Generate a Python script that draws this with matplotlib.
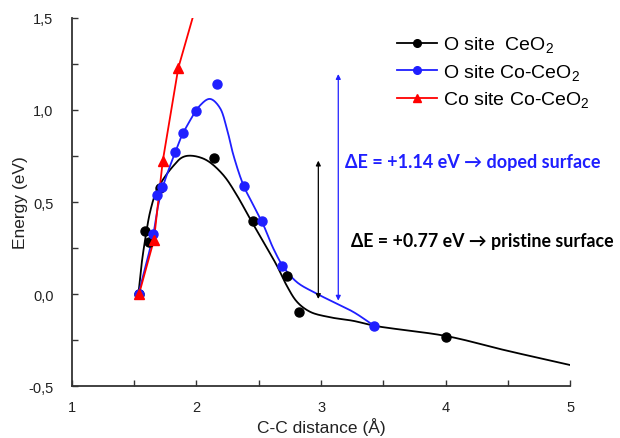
import numpy as np
import matplotlib
matplotlib.use("Agg")
import matplotlib.pyplot as plt
from matplotlib.lines import Line2D
from matplotlib.ticker import FuncFormatter, MultipleLocator

# ---- data ----
# O site CeO2 (black points)
o_ceo2_x = [1.54, 1.588, 1.622, 1.708, 2.141, 2.454, 2.727, 2.823, 4.002]
o_ceo2_y = [0.0, 0.343, 0.285, 0.577, 0.739, 0.397, 0.099, -0.097, -0.232]

# O site Co-CeO2 (blue points)
o_co_x = [1.54, 1.654, 1.682, 1.722, 1.828, 1.89, 1.997, 2.165, 2.382, 2.528, 2.689, 3.424]
o_co_y = [0.0, 0.327, 0.539, 0.584, 0.774, 0.875, 0.995, 1.141, 0.589, 0.399, 0.151, -0.173]

# Co site Co-CeO2 (red triangles) and the red line (runs on to the top edge)
co_co_x = [1.54, 1.66, 1.73, 1.855]
co_co_y = [0.0, 0.296, 0.721, 1.228]
red_line_x = [1.54, 1.66, 1.73, 1.855, 1.97]
red_line_y = [0.0, 0.296, 0.721, 1.228, 1.50]

# fitted curves (sampled along the drawn lines)
black_curve_x = [1.535, 1.56, 1.59, 1.63, 1.68, 1.75, 1.82, 1.88, 1.95, 2.08, 2.217, 2.324,
                 2.43, 2.538, 2.645, 2.725, 2.805, 2.91, 3.07, 3.26, 3.433, 4.01, 4.48, 5.0]
black_curve_y = [0.0, 0.16, 0.30, 0.45, 0.56, 0.64, 0.70, 0.74, 0.752, 0.728, 0.646, 0.538,
                 0.41, 0.283, 0.156, 0.046, -0.04, -0.095, -0.125, -0.145, -0.172, -0.228,
                 -0.305, -0.385]
blue_curve_x = [1.535, 1.60, 1.656, 1.69, 1.73, 1.78, 1.83, 1.87, 1.93, 2.03, 2.11, 2.19,
                2.244, 2.297, 2.377, 2.457, 2.538, 2.618, 2.698, 2.805, 2.938, 3.07, 3.26, 3.433]
blue_curve_y = [0.0, 0.17, 0.33, 0.47, 0.58, 0.68, 0.77, 0.84, 0.92, 1.025, 1.06, 1.01,
                0.90, 0.755, 0.592, 0.483, 0.375, 0.247, 0.148, 0.066, 0.012, -0.033, -0.097,
                -0.175]

# energy-difference arrows: (x, bottom, top)
arrow_black = (2.978, -0.026, 0.725)
arrow_blue = (3.138, -0.035, 1.195)

legend_labels = ["O site  CeO$_2$", "O site Co-CeO$_2$", "Co site Co-CeO$_2$"]
label_doped = "ΔE = +1.14 eV → doped surface"
label_pristine = "ΔE = +0.77 eV → pristine surface"

BLUE = "#1f1fff"


def smooth(xs, ys, n=16, alpha=0.5):
    # centripetal Catmull-Rom through the sampled curve points, only for drawing
    p = np.column_stack([xs, ys]).astype(float)
    p = np.vstack([2 * p[0] - p[1], p, 2 * p[-1] - p[-2]])
    out = []
    for i in range(1, len(p) - 2):
        P0, P1, P2, P3 = p[i - 1], p[i], p[i + 1], p[i + 2]
        t0 = 0.0
        t1 = t0 + np.linalg.norm(P1 - P0) ** alpha
        t2 = t1 + np.linalg.norm(P2 - P1) ** alpha
        t3 = t2 + np.linalg.norm(P3 - P2) ** alpha
        for t in np.linspace(t1, t2, n, endpoint=False):
            A1 = (t1 - t) / (t1 - t0) * P0 + (t - t0) / (t1 - t0) * P1
            A2 = (t2 - t) / (t2 - t1) * P1 + (t - t1) / (t2 - t1) * P2
            A3 = (t3 - t) / (t3 - t2) * P2 + (t - t2) / (t3 - t2) * P3
            B1 = (t2 - t) / (t2 - t0) * A1 + (t - t0) / (t2 - t0) * A2
            B2 = (t3 - t) / (t3 - t1) * A2 + (t - t1) / (t3 - t1) * A3
            out.append((t2 - t) / (t2 - t1) * B1 + (t - t1) / (t2 - t1) * B2)
    out.append(p[-2])
    out = np.array(out)
    return out[:, 0], out[:, 1]


plt.rcParams['font.family'] = ['Liberation Sans', 'DejaVu Sans']
plt.rcParams['mathtext.fontset'] = 'custom'
plt.rcParams['mathtext.rm'] = 'Liberation Sans'

fig = plt.figure(figsize=(6.2, 4.39), dpi=100)
ax = fig.add_axes([0.1156, 0.1178, 0.8045, 0.8392])

bx, by = smooth(black_curve_x, black_curve_y)
ax.plot(bx, by, color="black", lw=1.3, zorder=2)
ux, uy = smooth(blue_curve_x, blue_curve_y)
ax.plot(ux, uy, color=BLUE, lw=1.3, zorder=2)
ax.plot(red_line_x, red_line_y, color="red", lw=1.3, zorder=2)

ax.plot(o_ceo2_x, o_ceo2_y, "o", color="black", ms=6.5, zorder=3)
ax.plot(o_co_x, o_co_y, "o", color=BLUE, ms=6.5, zorder=3)
ax.plot(co_co_x, co_co_y, "^", color="red", ms=7.5, zorder=4)

for (x, y0, y1), c in [(arrow_black, "black"), (arrow_blue, BLUE)]:
    ax.annotate("", xy=(x, y1), xytext=(x, y0),
                arrowprops=dict(arrowstyle="<|-|>", color=c, lw=0.9,
                                mutation_scale=7, shrinkA=0, shrinkB=0))

ax.text(3.19, 0.718, label_doped, color=BLUE, fontsize=13, fontweight="bold",
        va="center", ha="left", family=['Lato', 'DejaVu Sans'])
ax.text(3.24, 0.289, label_pristine, color="black", fontsize=12.8, fontweight="bold",
        va="center", ha="left", family=['Lato', 'DejaVu Sans'])

handles = [
    Line2D([], [], color="black", marker="o", ms=5.5, lw=1.3),
    Line2D([], [], color=BLUE, marker="o", ms=5.5, lw=1.3),
    Line2D([], [], color="red", marker="^", ms=6, lw=1.3),
]
fig.legend(handles, legend_labels, loc="upper left",
           bbox_to_anchor=(397 / 620, 1 - 36 / 439), frameon=False, fontsize=14,
           handlelength=2.05, handletextpad=0.3, labelspacing=0.36,
           borderpad=0, borderaxespad=0)

ax.set_xlim(1, 5)
ax.set_ylim(-0.5, 1.5)
ax.xaxis.set_major_locator(MultipleLocator(1))
ax.xaxis.set_minor_locator(MultipleLocator(0.5))
ax.yaxis.set_major_locator(MultipleLocator(0.5))
ax.yaxis.set_minor_locator(MultipleLocator(0.25))
ax.yaxis.set_major_formatter(FuncFormatter(lambda v, p: f"{v:.1f}".replace(".", ",")))
ax.tick_params(which="both", direction="in", length=4.5, width=1, labelsize=10.5,
               color="#333333", labelcolor="#222222")
ax.tick_params(axis="x", pad=10)
ax.tick_params(axis="y", pad=13)
ax.spines["top"].set_visible(False)
ax.spines["right"].set_visible(False)
for s in ["left", "bottom"]:
    ax.spines[s].set_color("#333333")
    ax.spines[s].set_linewidth(1.3)

ax.set_xlabel("C-C distance (Å)", fontsize=12.5, labelpad=2, color="#222222")
ax.set_ylabel("Energy (eV)", fontsize=12.5, labelpad=0, color="#222222")

fig.savefig("out.png", dpi=100)
